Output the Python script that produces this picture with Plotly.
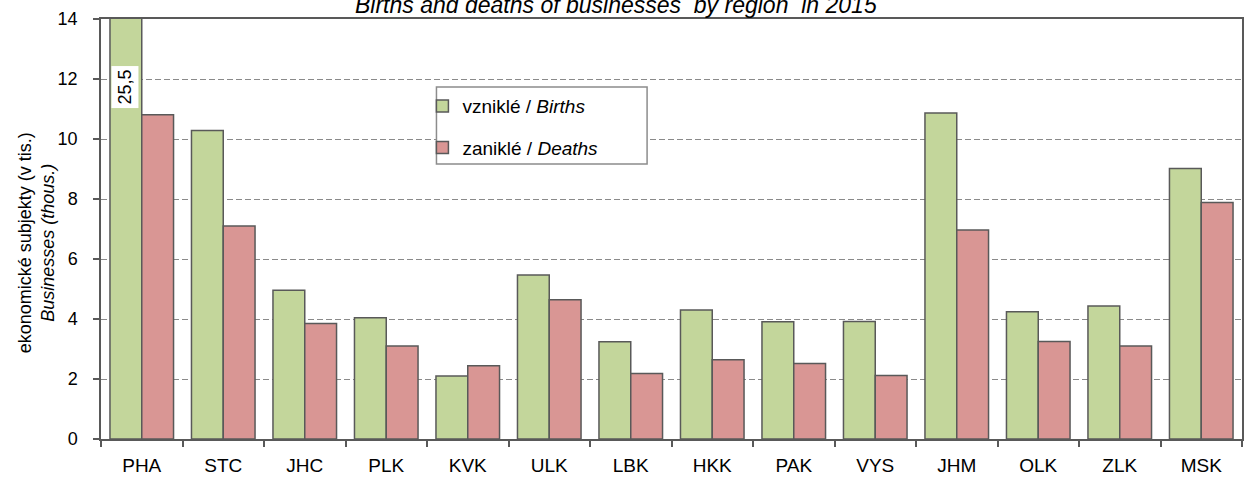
import plotly.graph_objects as go

regions = ["PHA", "STC", "JHC", "PLK", "KVK", "ULK", "LBK", "HKK", "PAK", "VYS", "JHM", "OLK", "ZLK", "MSK"]
births = [25.5, 10.28, 4.96, 4.04, 2.10, 5.47, 3.24, 4.30, 3.91, 3.92, 10.87, 4.24, 4.43, 9.02]
deaths = [10.81, 7.10, 3.85, 3.10, 2.44, 4.64, 2.18, 2.64, 2.52, 2.12, 6.97, 3.25, 3.10, 7.88]
y_ticks = [0, 2, 4, 6, 8, 10, 12, 14]
clipped_label = "25,5"

FONT = "Liberation Sans, Arial, sans-serif"
LINE = "#595959"

fig = go.Figure()
fig.add_trace(go.Bar(x=regions, y=births, name="vzniklé / <i>Births</i>", legendgroup="a",
                     marker=dict(color="#C3D69B", line=dict(color=LINE, width=1.5))))
fig.add_trace(go.Bar(x=regions, y=deaths, name="zaniklé / <i>Deaths</i>", legendgroup="b",
                     marker=dict(color="#D99694", line=dict(color=LINE, width=1.5))))

fig.add_annotation(x=regions[0], y=11.74, text=clipped_label, textangle=-90,
                   xshift=-17, showarrow=False, bgcolor="white", borderpad=3,
                   font=dict(family=FONT, size=18, color="black"))

fig.add_annotation(xref="paper", yref="paper", x=0.451, y=1.034, yanchor="middle",
                   text="<i>Births and deaths of businesses  by region  in 2015</i>",
                   showarrow=False, font=dict(family=FONT, size=23, color="black"))

# y-axis title placed like the original (slightly below the plot's centre)
fig.add_annotation(xref="paper", yref="paper", x=0, y=0.466, xanchor="center", yanchor="middle",
                   xshift=-65, textangle=-90, showarrow=False,
                   text="ekonomické subjekty (v tis.)<br><i>Businesses (thous.)</i>",
                   font=dict(family=FONT, size=18, color="black"))

# legend frame
fig.add_shape(type="rect", xref="paper", yref="paper", x0=0.294, x1=0.4786, y0=0.6545, y1=0.838,
              fillcolor="white", line=dict(color="#8c8c8c", width=1.5), layer="above")

fig.update_layout(
    width=1246, height=482,
    margin=dict(l=101, r=2, t=19, b=43),
    paper_bgcolor="white", plot_bgcolor="white",
    barmode="group", bargap=0.22, bargroupgap=0,
    font=dict(family=FONT, size=18, color="black"),
    showlegend=True,
    legend=dict(x=0.2817, y=0.838, xanchor="left", yanchor="top",
                bgcolor="rgba(0,0,0,0)", borderwidth=0,
                font=dict(family=FONT, size=19, color="black"),
                traceorder="grouped", tracegroupgap=14),
    xaxis=dict(type="category", showline=True, linecolor=LINE, linewidth=1.5,
               mirror=True, ticks="outside", tickson="boundaries", ticklen=6,
               tickcolor=LINE, tickwidth=1.5, showgrid=False, ticklabelstandoff=8,
               tickfont=dict(family=FONT, size=19)),
    yaxis=dict(range=[0, 14], tickvals=y_ticks, showline=True, linecolor=LINE,
               linewidth=1.5, mirror=True, ticks="outside", ticklen=6,
               tickcolor=LINE, tickwidth=1.5, showgrid=True, gridcolor="#8a8a8a",
               griddash="6px,3px", gridwidth=1.3, zeroline=False, ticklabelstandoff=12,
               tickfont=dict(family=FONT, size=18)),
)

fig.write_html("out.html", config={"displayModeBar": False},
               post_script="document.body.style.margin='0';")
